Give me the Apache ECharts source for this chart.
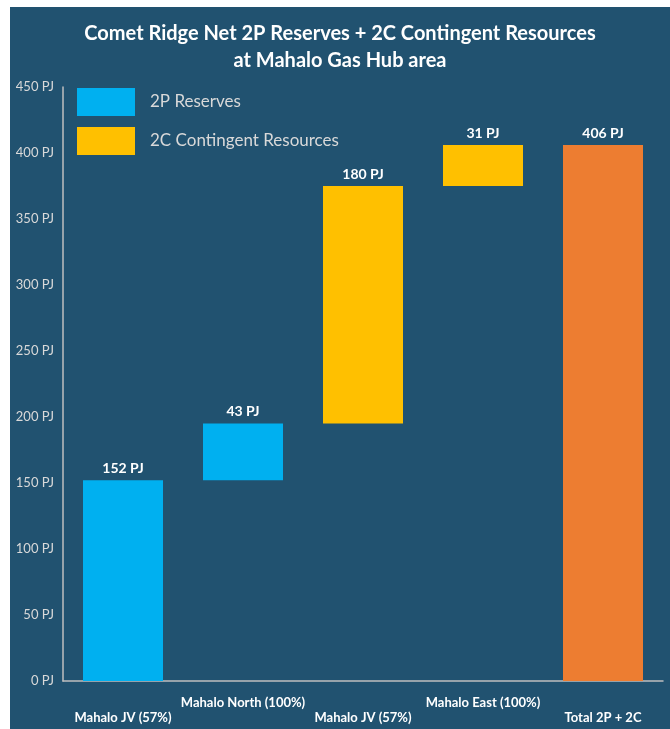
<!DOCTYPE html>
<html>
<head>
<meta charset="utf-8">
<script src="https://cdn.jsdelivr.net/npm/echarts@6/dist/echarts.min.js"></script>
<style>
  body { margin: 0; background: #ffffff; }
  #main { position: absolute; left: 10px; top: 7px; width: 660px; height: 722px; }
</style>
</head>
<body>
<div id="main"></div>
<script>
// categories on x axis
var categories = ['Mahalo JV (57%)', 'Mahalo North (100%)', 'Mahalo JV (57%)', 'Mahalo East (100%)', 'Total 2P + 2C'];
// step values (PJ)
var reserves2P = [152, 43, '-', '-', '-'];
var contingent2C = ['-', '-', 180, 31, '-'];
var total = ['-', '-', '-', '-', 406];
var yTicks = [0, 50, 100, 150, 200, 250, 300, 350, 400, 450];

// invisible base for the waterfall steps
var base = [];
var running = 0;
for (var i = 0; i < categories.length; i++) {
    if (total[i] !== '-') {
        base.push(0);
    } else {
        base.push(running);
        running += (reserves2P[i] !== '-' ? reserves2P[i] : contingent2C[i]);
    }
}

var font = 'Lato, "Open Sans", sans-serif';
var labelStyle = {
    show: true,
    position: 'top',
    formatter: '{c} PJ',
    color: '#ffffff',
    fontWeight: 'bold',
    fontSize: 14,
    fontFamily: font
};

var chart = echarts.init(document.getElementById('main'));
chart.setOption({
    backgroundColor: '#215270',
    animation: false,
    title: {
        text: 'Comet Ridge Net 2P Reserves + 2C Contingent Resources\nat Mahalo Gas Hub area',
        left: 'center',
        top: 8,
        textStyle: {
            color: '#ffffff',
            fontSize: 20,
            fontWeight: 'bold',
            lineHeight: 27,
            fontFamily: font,
            align: 'center'
        }
    },
    legend: {
        orient: 'vertical',
        left: 62,
        top: 76,
        itemWidth: 58,
        itemHeight: 28,
        itemGap: 11,
        icon: 'rect',
        data: ['2P Reserves', '2C Contingent Resources'],
        textStyle: {
            color: '#d9d9d9',
            fontSize: 17,
            fontFamily: font,
            padding: [3, 0, 0, 10]
        }
    },
    grid: { left: 53, right: 7, top: 80, bottom: 48 },
    xAxis: {
        type: 'category',
        data: categories,
        axisLine: { lineStyle: { color: '#bfbfbf', width: 1.5 } },
        axisTick: { show: false },
        axisLabel: {
            interval: 0,
            margin: 14,
            color: '#ffffff',
            fontWeight: 'bold',
            fontSize: 13,
            lineHeight: 15,
            fontFamily: font,
            formatter: function (v, idx) {
                return idx % 2 === 0 ? '\n' + v : v;
            }
        }
    },
    yAxis: {
        type: 'value',
        min: yTicks[0],
        max: yTicks[yTicks.length - 1],
        interval: 50,
        axisLine: { show: true, lineStyle: { color: '#bfbfbf', width: 1.5 } },
        axisTick: { show: false },
        splitLine: { show: false },
        axisLabel: {
            formatter: '{value} PJ',
            color: '#d9d9d9',
            fontSize: 13,
            fontFamily: font,
            margin: 9
        }
    },
    series: [{
        name: 'base',
        type: 'bar',
        stack: 'w',
        barWidth: 80,
        itemStyle: { color: 'transparent' },
        emphasis: { disabled: true },
        data: base
    }, {
        name: '2P Reserves',
        type: 'bar',
        stack: 'w',
        barWidth: 80,
        itemStyle: { color: '#00b0f0' },
        label: labelStyle,
        data: reserves2P
    }, {
        name: '2C Contingent Resources',
        type: 'bar',
        stack: 'w',
        barWidth: 80,
        itemStyle: { color: '#ffc000' },
        label: labelStyle,
        data: contingent2C
    }, {
        name: 'Total',
        type: 'bar',
        stack: 'w',
        barWidth: 80,
        itemStyle: { color: '#ed7d31' },
        label: labelStyle,
        data: total
    }]
});
</script>
</body>
</html>
